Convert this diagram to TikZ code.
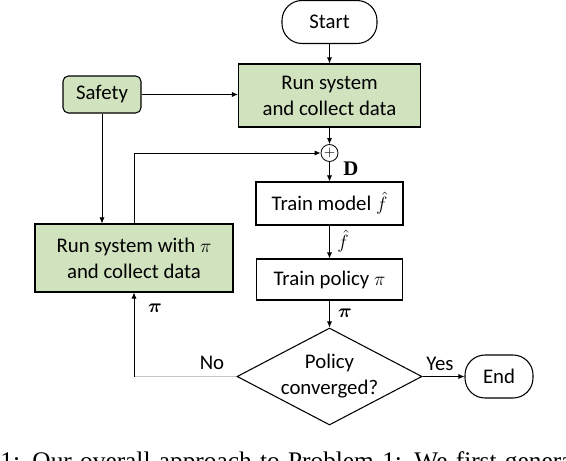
\documentclass[tikz,border=0pt]{standalone}
\usepackage{bm}
\usepackage{fontspec}
\setmainfont{Carlito}
\newfontfamily\capfont{Liberation Serif}
\usetikzlibrary{arrows.meta,shapes.geometric}
\definecolor{boxgreen}{RGB}{208,226,190}
\tikzset{
  base/.style={draw, line width=0.8pt, font=\fontsize{15.6}{19.5}\selectfont, align=center, inner sep=0pt},
  term/.style={base, rounded corners=15pt},
  proc/.style={base, rectangle},
  greenbox/.style={proc, fill=boxgreen},
  decision/.style={base, diamond, aspect=1.9},
  lbl/.style={font=\fontsize{15.6}{19.5}\selectfont, inner sep=0pt},
}
\begin{document}
\begin{tikzpicture}[>={Latex[length=4.5pt,width=3.8pt]}, x=0.75pt, y=-0.75pt, line width=0.6pt]
\useasboundingbox (0,0) rectangle (566,460);

% main column
\node[term, minimum width=71.25pt, minimum height=32.25pt] (start) at (329.5,22) {Start};
\node[greenbox, minimum width=136.5pt, minimum height=47.25pt] (run) at (329.5,95.5) {Run system\\and collect data};
\node[draw, circle, minimum size=12.75pt, inner sep=0pt, font=\fontsize{11}{11}\selectfont] (plus) at (329.5,153) {$+$};
\node[proc, minimum width=110.25pt, minimum height=32.25pt] (model) at (329.5,203.5) {Train model $\hat{f}$};
\node[proc, minimum width=109.5pt, minimum height=30.75pt] (policy) at (329.5,279.5) {Train policy $\pi$};
\node[decision, minimum width=138.75pt, minimum height=72.75pt] (conv) at (329.5,376.5) {Policy\\converged?};
\node[term, minimum width=51pt, minimum height=32.25pt] (end) at (499,376.5) {End};

% left side
\node[greenbox, rounded corners=4pt, minimum width=58.5pt, minimum height=27.75pt] (safety) at (102,94.5) {Safety};
\node[greenbox, minimum width=148.5pt, minimum height=51pt] (runpi) at (134,258) {Run system with $\pi$\\and collect data};
\coordinate (corner) at (conv.west -| runpi.south);

% labels
\node[lbl, font=\capfont\bfseries\fontsize{15.6}{19.5}\selectfont] (dlbl) at (351,169) {D};
\node[lbl] (flbl) at (343,241) {$\hat{f}$};
\node[lbl] (pilbl) at (345,313) {$\bm{\pi}$};
\node[lbl] (pilbl2) at (155,308) {$\bm{\pi}$};
\node[lbl] (yes) at (440,364) {Yes};
\node[lbl] (no) at (212,363) {No};

% connectors
\draw[->] (start) -- (run);
\draw[->] (safety.east) -- (safety.east -| run.west);
\draw[->] (run) -- (plus);
\draw[->] (plus) -- (model);
\draw[->] (model) -- (policy);
\draw[->] (policy) -- (conv);
\draw[->] (conv) -- (end);
\draw[->] (safety) -- (safety |- runpi.north);
\draw[->] (runpi.north) |- (plus);
\draw[gray!45] (conv.west) -- (corner);
\draw[->] (corner) -- (runpi.south);

% caption (cut by the page edge)
\node[anchor=base west, inner sep=0pt, font=\capfont\fontsize{19}{21}\selectfont] (caption) at (0,469)
  {\makebox[429pt][s]{1: Our overall approach to Problem 1: We first genera}};
\end{tikzpicture}
\end{document}
